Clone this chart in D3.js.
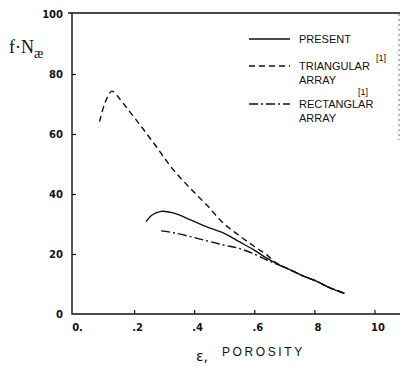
<!DOCTYPE html>
<html>
<head>
<meta charset="utf-8">
<script src="https://cdn.jsdelivr.net/npm/d3@7"></script>
<style>
  body { margin: 0; background: #fff; }
  svg { display: block; background: #fff; }
  .tick text { font-family: "DejaVu Sans", sans-serif; font-weight: bold; font-size: 10px; fill: #111; }
  .tick line { stroke: #111; stroke-width: 1.2; }
  .legend text { font-family: "Liberation Sans", Arial, sans-serif; font-size: 11px; fill: #111; }
</style>
</head>
<body>
<svg id="chart" width="402" height="366"></svg>
<script>
/* values */
var present_eps = [0.24, 0.26, 0.29, 0.33, 0.39, 0.44, 0.50, 0.55, 0.60, 0.64, 0.67, 0.72, 0.76, 0.81, 0.85, 0.90];
var present_val = [30.8, 33.0, 34.2, 33.7, 31.3, 29.1, 26.9, 24.1, 21.3, 18.7, 17.0, 14.7, 12.8, 10.8, 8.8, 6.9];

var triangular_eps = [0.085, 0.10, 0.115, 0.126, 0.14, 0.164, 0.22, 0.276, 0.331, 0.387, 0.442, 0.498, 0.548, 0.60, 0.642, 0.67, 0.72, 0.76, 0.81, 0.85, 0.90];
var triangular_val = [64.1, 69.5, 73.0, 74.3, 73.2, 70.2, 63.0, 55.5, 48.0, 41.9, 36.3, 30.2, 26.3, 22.5, 19.7, 17.2, 14.7, 12.8, 10.8, 8.8, 6.9];

var rectangular_eps = [0.29, 0.331, 0.387, 0.442, 0.498, 0.548, 0.60, 0.642, 0.67, 0.72, 0.76, 0.81, 0.85, 0.90];
var rectangular_val = [27.7, 27.1, 25.8, 24.4, 23.0, 21.9, 20.0, 18.0, 16.8, 14.7, 12.8, 10.8, 8.8, 6.9];

var x_ticks = [0, 0.2, 0.4, 0.6, 0.8, 1.0];
var x_tick_labels = ["0.", ".2", ".4", ".6", "8", "10"];
var y_ticks = [0, 20, 40, 60, 80, 100];

var legend_labels = [["PRESENT"], ["TRIANGULAR", "ARRAY"], ["RECTANGLAR", "ARRAY"]];
var legend_refs = ["", "[1]", "[1]"];

var svg = d3.select("#chart");

var x = d3.scaleLinear().domain([0, 1.085]).range([74, 400]);
var y = d3.scaleLinear().domain([0, 100]).range([314, 14]);

/* frame: left axis, top line, bottom axis, faint right edge */
svg.append("path")
    .attr("d", "M" + (x(0) - 6) + "," + (y(100) - 1) + "H" + x(1.085) +
               "M" + (x(0) - 2) + "," + (y(100) - 1) + "V" + y(0) +
               "H" + x(1.085))
    .attr("fill", "none")
    .attr("stroke", "#111")
    .attr("stroke-width", 1.4);

svg.append("line")
    .attr("x1", x(1.085) - 1).attr("x2", x(1.085) - 1)
    .attr("y1", y(100)).attr("y2", y(58))
    .attr("stroke", "#555")
    .attr("stroke-width", 0.8)
    .attr("stroke-dasharray", "2,3");

/* y axis, ticks pointing into the plot */
var y_axis = svg.append("g")
    .attr("transform", "translate(" + (x(0) - 2) + ",0)")
    .call(d3.axisLeft(y).tickValues(y_ticks).tickSizeInner(-4).tickSizeOuter(0).tickPadding(9));
y_axis.select(".domain").remove();
y_axis.selectAll(".tick line").filter(function(d) { return d === 0 || d === 100; }).remove();

/* x axis, ticks pointing up */
var x_axis = svg.append("g")
    .attr("transform", "translate(0," + y(0) + ")")
    .call(d3.axisBottom(x).tickValues(x_ticks).tickSizeInner(-4).tickSizeOuter(0).tickPadding(10)
      .tickFormat(function(d, i) { return x_tick_labels[i]; }));
x_axis.select(".domain").remove();
x_axis.selectAll(".tick line").filter(function(d) { return d === 0; }).remove();
x_axis.selectAll(".tick text").attr("dx", "3");

/* axis titles */
var ylab = svg.append("text")
    .attr("x", 9)
    .attr("y", 53)
    .style("font-family", "'Liberation Serif', serif")
    .style("font-size", "18px")
    .attr("fill", "#111");
ylab.append("tspan").text("f\u00b7N");
ylab.append("tspan").attr("dy", 5).style("font-size", "14px").text("\u00e6");

svg.append("text")
    .attr("x", 196)
    .attr("y", 361)
    .style("font-family", "'DejaVu Sans', sans-serif")
    .style("font-size", "14px")
    .attr("fill", "#111")
    .text("\u03b5,");

svg.append("text")
    .attr("x", 222)
    .attr("y", 356)
    .style("font-family", "'Liberation Sans', Arial, sans-serif")
    .style("font-size", "12px")
    .style("letter-spacing", "2.6px")
    .attr("fill", "#111")
    .text("POROSITY");

/* curves */
function pairs(xs, ys) {
  return xs.map(function(d, i) { return [d, ys[i]]; });
}

var line = d3.line()
    .x(function(d) { return x(d[0]); })
    .y(function(d) { return y(d[1]); })
    .curve(d3.curveCatmullRom);

var series = [
  {data: pairs(present_eps, present_val), dash: null},
  {data: pairs(triangular_eps, triangular_val), dash: "6,4"},
  {data: pairs(rectangular_eps, rectangular_val), dash: "9,3,2,3"}
];

svg.selectAll(".curve")
    .data(series)
  .enter().append("path")
    .attr("class", "curve")
    .attr("d", function(d) { return line(d.data); })
    .attr("fill", "none")
    .attr("stroke", "#111")
    .attr("stroke-width", 1.4)
    .attr("stroke-dasharray", function(d) { return d.dash; });

/* legend */
var legend_y = [39, 66, 104];
var lg = svg.append("g").attr("class", "legend");

legend_labels.forEach(function(lines, i) {
  lg.append("line")
      .attr("x1", 249).attr("x2", 290)
      .attr("y1", legend_y[i]).attr("y2", legend_y[i])
      .attr("stroke", "#111")
      .attr("stroke-width", 1.3)
      .attr("stroke-dasharray", series[i].dash);

  var t = lg.append("text").attr("x", 299).attr("y", legend_y[i] + 4);
  lines.forEach(function(s, j) {
    t.append("tspan").attr("x", 299).attr("dy", j === 0 ? 0 : 14).text(s);
  });
});

/* reference marks, like the original's superscripts */
lg.append("text").attr("x", 376).attr("y", 61).attr("fill", "#111").style("font-size", "9px").text(legend_refs[1]);
lg.append("text").attr("x", 358).attr("y", 95).attr("fill", "#111").style("font-size", "9px").text(legend_refs[2]);
</script>
</body>
</html>
